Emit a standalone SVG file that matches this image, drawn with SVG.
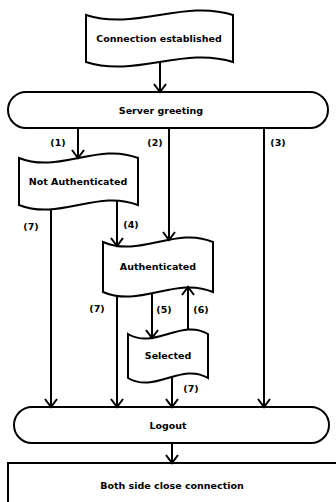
<svg xmlns="http://www.w3.org/2000/svg" width="336" height="502" viewBox="0 0 336 502">
<style>
.box{fill:#fff;stroke:#000;stroke-width:2}
.t{font-family:"DejaVu Sans",sans-serif;font-weight:bold;font-size:9.5px;fill:#000;text-anchor:middle;dominant-baseline:central}
.c{fill:none;stroke:#000;stroke-width:2;marker-end:url(#ah)}
</style>
<defs>
<marker id="ah" viewBox="-10 -8 12 16" refX="0" refY="0" markerWidth="12" markerHeight="16" markerUnits="userSpaceOnUse" orient="auto">
<path d="M-8,-6 L0,0 L-8,6" fill="none" stroke="#000" stroke-width="2"/>
</marker>
</defs>
<rect width="336" height="502" fill="#fff"/>
<g id="conn">
<path class="box" d="M86,15 C135,31 184,-1 233,15 L233,62 C184,46 135,78 86,62 Z"/>
<text class="t" x="159" y="38">Connection established</text>
</g>
<g id="greeting">
<rect class="box" x="8" y="92" width="320" height="36" rx="18"/>
<text class="t" x="161" y="110">Server greeting</text>
</g>
<g id="notauth">
<path class="box" d="M19,158 C59,174 98,142 138,158 L138,205 C98,189 59,221 19,205 Z"/>
<text class="t" x="78" y="181">Not Authenticated</text>
</g>
<g id="auth">
<path class="box" d="M103,242 C139.7,258 176.3,226 213,242 L213,292 C176.3,276 139.7,308 103,292 Z"/>
<text class="t" x="158" y="266">Authenticated</text>
</g>
<g id="selected">
<path class="box" d="M128,334 C154.7,350 181.3,318 208,334 L208,378 C181.3,362 154.7,394 128,378 Z"/>
<text class="t" x="168" y="355">Selected</text>
</g>
<g id="logout">
<rect class="box" x="14" y="407" width="315" height="36" rx="18"/>
<text class="t" x="168" y="425">Logout</text>
</g>
<g id="close">
<rect class="box" x="8" y="463" width="340" height="50"/>
<text class="t" x="172" y="485">Both side close connection</text>
</g>
<g id="connectors">
<path class="c" d="M160,62 V92"/>
<path class="c" d="M78,128 V158"/>
<path class="c" d="M169,128 V240"/>
<path class="c" d="M264,128 V407"/>
<path class="c" d="M51,209 V407"/>
<path class="c" d="M117,201 V246"/>
<path class="c" d="M117,296 V407"/>
<path class="c" d="M152,293 V338"/>
<path class="c" d="M188,330 V287"/>
<path class="c" d="M172,377 V407"/>
<path class="c" d="M172,443 V463"/>
<text class="t" x="58" y="142">(1)</text>
<text class="t" x="155" y="142">(2)</text>
<text class="t" x="278" y="142">(3)</text>
<text class="t" x="31" y="226">(7)</text>
<text class="t" x="131" y="224">(4)</text>
<text class="t" x="97" y="308">(7)</text>
<text class="t" x="164" y="309">(5)</text>
<text class="t" x="201" y="309">(6)</text>
<text class="t" x="191" y="388">(7)</text>
</g>
</svg>
